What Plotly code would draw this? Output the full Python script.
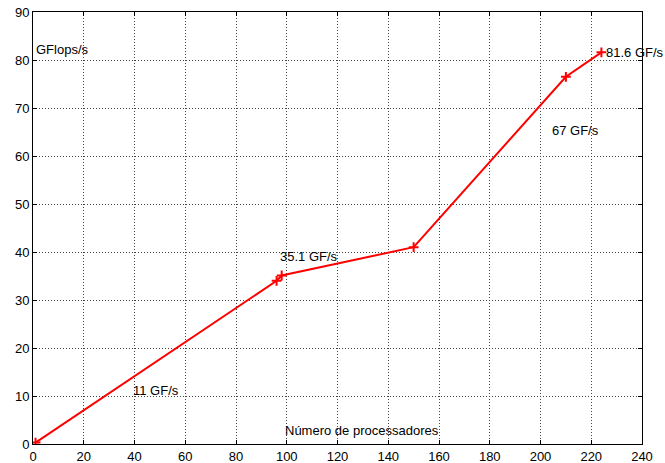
import plotly.graph_objects as go

procs = [1, 96, 98, 150, 210, 224]
gflops = [0.3, 34.0, 35.1, 41.0, 76.5, 81.6]

x_ticks = list(range(0, 241, 20))
y_ticks = list(range(0, 91, 10))

annotations_text = ["GFlops/s", "11 GF/s", "35.1 GF/s", "67 GF/s", "81.6 GF/s", "Número de processadores"]
annotations_x = [1, 39.4, 97.3, 204.5, 225.8, 99.3]
annotations_y = [82.1, 11.2, 39.0, 65.4, 81.5, 2.9]

fig = go.Figure()
fig.add_trace(go.Scatter(
    x=procs, y=gflops, mode="lines+markers",
    line=dict(color="#ff0000", width=2),
    marker=dict(symbol="cross-thin", size=7, color="#ff0000",
                line=dict(color="#ff0000", width=2)),
    showlegend=False, hoverinfo="skip",
))

for t, ax, ay in zip(annotations_text, annotations_x, annotations_y):
    fig.add_annotation(x=ax, y=ay, text=t, showarrow=False, xanchor="left",
                       yanchor="middle", xshift=-2, font=dict(size=13, color="#000000"))

axis_common = dict(
    showgrid=True, gridcolor="#444444", griddash="1px,2px", gridwidth=1,
    showline=True, linecolor="#000000", linewidth=1, mirror="allticks",
    ticks="inside", ticklen=4, tickcolor="#000000", tickwidth=1,
    zeroline=False, tickfont=dict(size=13, color="#000000"), automargin=False,
)

fig.update_xaxes(range=[0, 240], tickvals=x_ticks, ticktext=[str(v) for v in x_ticks],
                 **axis_common)
fig.update_yaxes(range=[0, 90], tickvals=y_ticks, ticktext=[str(v) for v in y_ticks],
                 **axis_common)

fig.update_layout(
    width=665, height=463,
    margin=dict(l=33, r=23, t=12, b=19, pad=0),
    plot_bgcolor="#ffffff", paper_bgcolor="#ffffff",
    font=dict(family="Liberation Sans, Arial, sans-serif", size=13, color="#000000"),
)

fig.write_html("out.html")
